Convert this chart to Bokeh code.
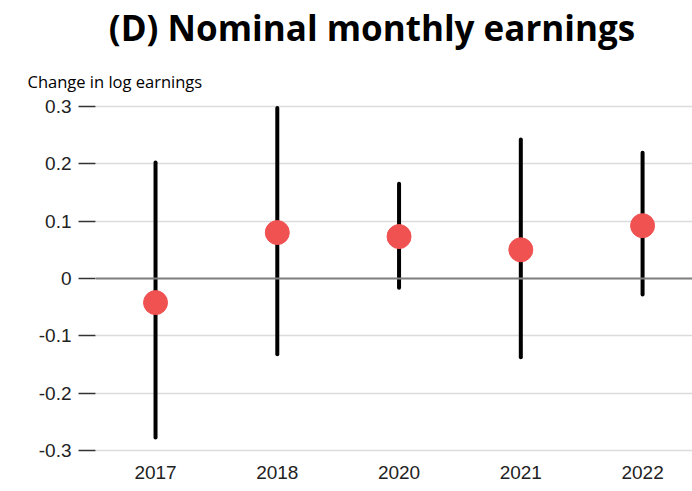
from bokeh.plotting import figure
from bokeh.models import Range1d, FixedTicker, Span, Div, ColumnDataSource
from bokeh.layouts import column
from bokeh.embed import file_html
from bokeh.resources import INLINE

years = ["2017", "2018", "2020", "2021", "2022"]
estimate = [-0.042, 0.080, 0.073, 0.050, 0.092]
ci_low = [-0.277, -0.132, -0.016, -0.137, -0.028]
ci_high = [0.202, 0.297, 0.165, 0.242, 0.219]
y_ticks = [-0.3, -0.2, -0.1, 0, 0.1, 0.2, 0.3]
y_tick_labels = ["-0.3", "-0.2", "-0.1", "0", "0.1", "0.2", "0.3"]
title_text = "(D) Nominal monthly earnings"
y_label_text = "Change in log earnings"

xpos = list(range(len(years)))
src = ColumnDataSource(dict(x=xpos, est=estimate, lo=ci_low, hi=ci_high))

title_div = Div(
    text=("<div style=\"width:692px;box-sizing:border-box;padding-left:52px;"
          "text-align:center;font-family:'Open Sans';font-weight:bold;"
          "font-size:35px;line-height:56px;color:black;white-space:nowrap;\">"
          + title_text + "</div>"),
    width=692, height=56, margin=0)

p = figure(width=692, height=435, output_backend="svg", toolbar_location=None,
           x_range=Range1d(-0.493, 4.41), y_range=Range1d(-0.31, 0.31),
           min_border_left=95, min_border_right=0, min_border_top=44, min_border_bottom=35,
           margin=0)
p.outline_line_color = None
p.background_fill_color = "white"
p.border_fill_color = "white"

# axis caption above the frame
p.title.text = y_label_text
p.title.align = "left"
p.title.text_font = "Open Sans"
p.title.text_font_style = "normal"
p.title.text_font_size = "16.5px"
p.title.text_color = "black"
p.title.offset = -68
p.title.standoff = 15

# axes
p.xaxis.ticker = FixedTicker(ticks=xpos)
p.xaxis.major_label_overrides = {i: y for i, y in zip(xpos, years)}
p.xaxis.axis_line_color = None
p.xaxis.major_tick_line_color = None
p.xaxis.major_tick_out = 0
p.xaxis.major_tick_in = 0
p.xaxis.minor_tick_line_color = None
p.xaxis.major_label_text_font = "Liberation Sans"
p.xaxis.major_label_text_font_size = "19px"
p.xaxis.major_label_text_color = "#222222"
p.xaxis.major_label_standoff = 9

p.yaxis.ticker = FixedTicker(ticks=y_ticks)
p.yaxis.major_label_overrides = {t: l for t, l in zip(y_ticks, y_tick_labels)}
p.yaxis.axis_line_color = None
p.yaxis.minor_tick_line_color = None
p.yaxis.major_tick_out = 17
p.yaxis.major_tick_in = 0
p.yaxis.major_tick_line_color = "#333333"
p.yaxis.major_tick_line_width = 1.5
p.yaxis.major_label_text_font = "Liberation Sans"
p.yaxis.major_label_text_font_size = "19px"
p.yaxis.major_label_text_color = "#222222"
p.yaxis.major_label_standoff = 7

p.xgrid.grid_line_color = None
p.ygrid.grid_line_color = "#dcdcdc"
p.ygrid.grid_line_width = 1.5

p.add_layout(Span(location=0, dimension="width", line_color="#808080", line_width=2))

p.segment(x0="x", y0="lo", x1="x", y1="hi", source=src, line_color="black",
          line_width=4, line_cap="round")
p.scatter(x="x", y="est", source=src, size=24, fill_color="#F05252",
          line_color="#F05252")

layout = column(title_div, p, spacing=0, margin=0)
open("out.html", "w").write(file_html(layout, INLINE))
